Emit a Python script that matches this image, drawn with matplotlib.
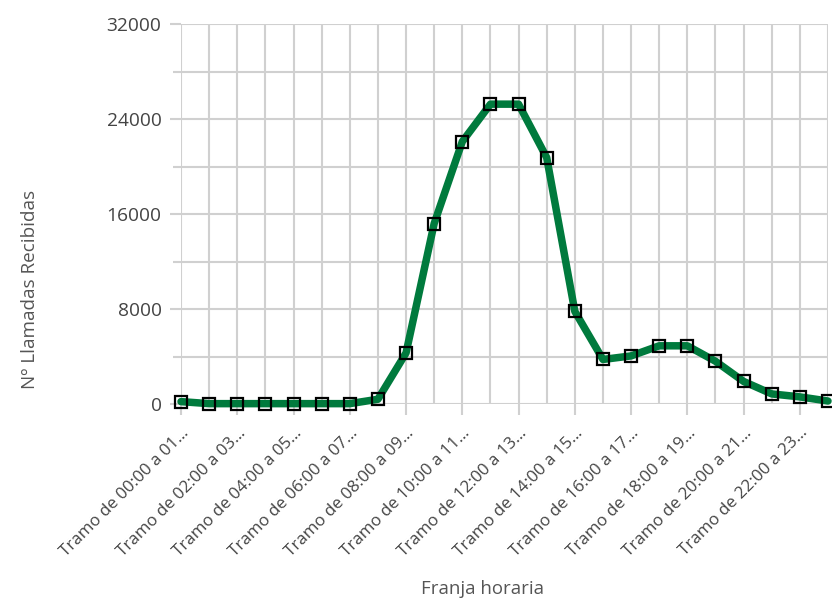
"""Llamadas recibidas por franja horaria (line chart with square markers)."""
import matplotlib
matplotlib.use("Agg")
import matplotlib.pyplot as plt

plt.rcParams["font.family"] = ["Open Sans", "DejaVu Sans"]

HOURS = list(range(24))
TICK_LABELS = [f"Tramo de {h:02d}:00 a {h + 1:02d}\u2026" for h in range(0, 24, 2)]
CALLS = [200, 30, 30, 30, 30, 30, 30, 400, 4300, 15200, 22100, 25250,
         25250, 20750, 7800, 3750, 4050, 4900, 4900, 3600, 1900, 850, 600, 250]

Y_MAJOR = [0, 8000, 16000, 24000, 32000]
Y_MINOR = [4000, 12000, 20000, 28000]

GRID = "#d0d0d0"
GREEN = "#007a3d"

fig = plt.figure(figsize=(8.32, 6.02), dpi=100)
ax = fig.add_axes([181 / 832, 1 - 404 / 602, 647 / 832, 380 / 602])

ax.plot(HOURS, CALLS, color=GREEN, lw=5.4, solid_joinstyle="round",
        solid_capstyle="round", zorder=3, clip_on=False)
ax.plot(HOURS, CALLS, ls="none", marker="s", ms=9, mfc="none", mec="black",
        mew=1.6, zorder=4, clip_on=False)

ax.set_xlim(0, 23)
ax.set_ylim(0, 32000)

ax.set_xticks(range(0, 24, 2))
ax.set_xticks(HOURS, minor=True)
ax.set_xticklabels(TICK_LABELS, rotation=45, ha="right", rotation_mode="anchor",
                   fontsize=12.2, color="#444444")
ax.set_yticks(Y_MAJOR)
ax.set_yticks(Y_MINOR, minor=True)
ax.set_yticklabels([str(v) for v in Y_MAJOR], fontsize=13.8, color="#444444")

ax.grid(True, which="both", color=GRID, lw=1.5)
ax.set_axisbelow(True)
for s in ax.spines.values():
    s.set_visible(False)

ax.tick_params(axis="x", which="major", length=8, width=1.5, color=GRID, pad=7)
ax.tick_params(axis="x", which="minor", length=0)
ax.tick_params(axis="y", which="major", length=8, width=1.5, color=GRID, pad=6)
ax.tick_params(axis="y", which="minor", length=6, width=1.5, color=GRID)

fig.text(30 / 832, 1 - 289 / 602, "Nº Llamadas Recibidas", rotation=90,
         ha="center", va="center", fontsize=13.6, color="#555555")
fig.text(482 / 832, 1 - 589 / 602, "Franja horaria", ha="center", va="center",
         fontsize=13.4, color="#555555")

fig.savefig("out.png", dpi=100)
